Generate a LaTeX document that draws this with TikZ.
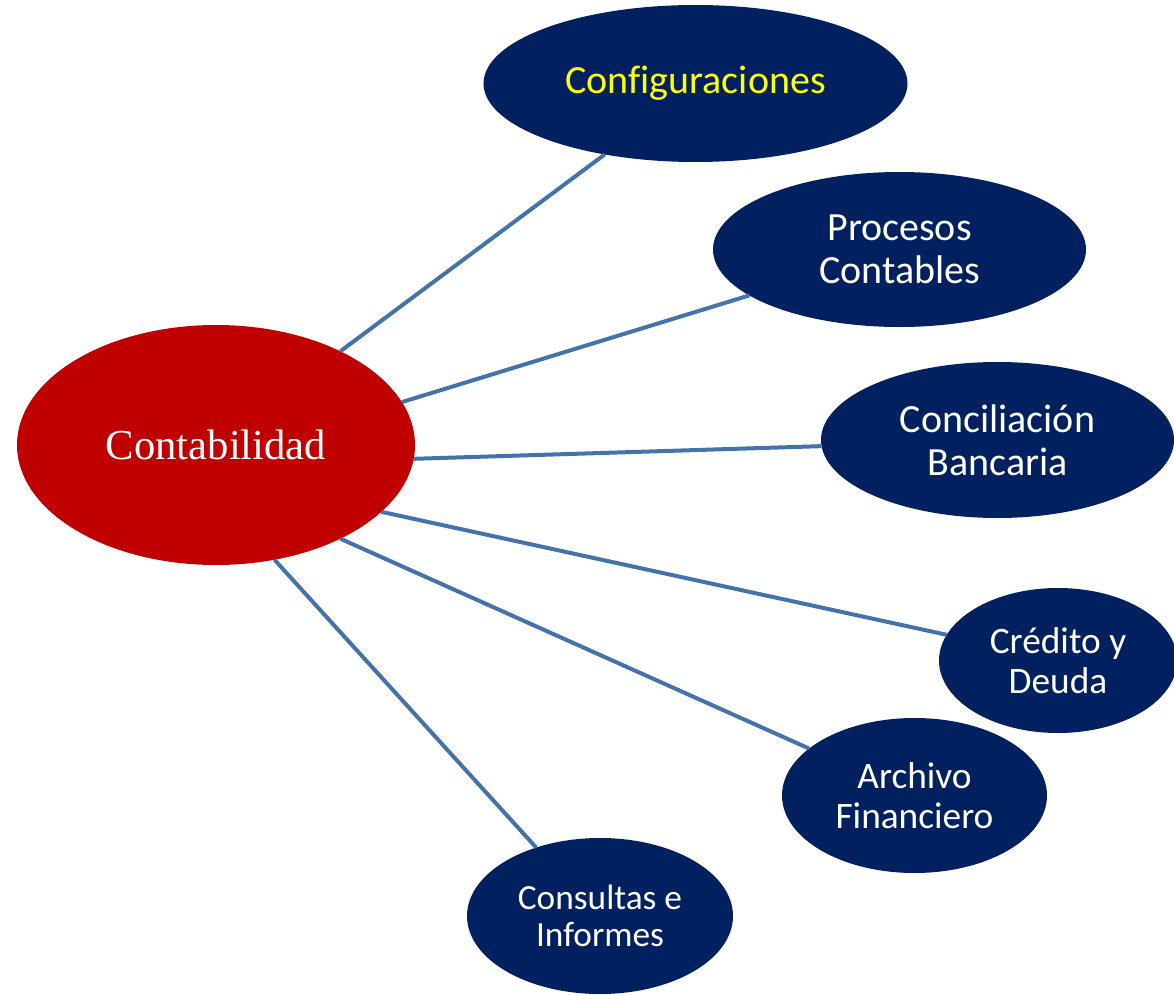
\documentclass[tikz,border=0pt]{standalone}
\usepackage{fontspec}
\setmainfont{Carlito}[Ligatures=NoCommon]
\newfontfamily\titlefont{Liberation Serif}
\usepackage{tikz}
\usetikzlibrary{shapes.geometric}

\definecolor{navyfill}{RGB}{0,32,96}
\definecolor{redfill}{RGB}{192,0,0}
\definecolor{linkblue}{RGB}{68,114,170}
\definecolor{yellowtext}{RGB}{255,255,0}

\begin{document}
\begin{tikzpicture}[x=0.75pt,y=0.75pt,yscale=-1,xscale=1,
  bubble/.style={ellipse, fill=navyfill, draw=none, inner sep=0pt, outer sep=0pt, text=white, align=center},
  big text/.style={font=\fontsize{30}{32}\selectfont},
  mid text/.style={font=\fontsize{28}{30}\selectfont},
  small text/.style={font=\fontsize{26.5}{28}\selectfont},
  link/.style={draw=linkblue, line width=3pt}]
%set diagram left start at 0, and has height of 995
\useasboundingbox (0,0) rectangle (1174,995);

%Shape: Ellipse
\draw (216,445) node [ellipse, fill=redfill, inner sep=0pt, outer sep=0pt, minimum width=298.5pt, minimum height=180pt, text=white, font=\titlefont\fontsize{32}{34}\selectfont] (ctr) {Contabilidad};
%Shape: Ellipse
\draw (695.5,83.5) node [bubble, big text, minimum width=318pt, minimum height=117.75pt, text=yellowtext] (conf) {Configuraciones};
%Shape: Ellipse
\draw (899.5,249.5) node [bubble, big text, minimum width=279.75pt, minimum height=116.25pt] (proc) {Procesos\\Contables};
%Shape: Ellipse
\draw (997.5,440) node [bubble, big text, minimum width=264.75pt, minimum height=117pt] (conc) {Conciliación\\Bancaria};
%Shape: Ellipse
\draw (1058,660.5) node [bubble, mid text, minimum width=178.5pt, minimum height=108.75pt] (cred) {Crédito y\\Deuda};
%Shape: Ellipse
\draw (914.5,795.5) node [bubble, mid text, minimum width=198.75pt, minimum height=116.25pt] (arch) {Archivo\\Financiero};
%Shape: Ellipse
\draw (600,916) node [bubble, small text, minimum width=199.5pt, minimum height=117pt] (cons) {Consultas e\\Informes};

%Straight Lines
\draw [link] (ctr.37) -- (conf.-142);
%Straight Lines
\draw [link] (ctr.13) -- (proc.-163);
%Straight Lines
\draw [link] (ctr.-4) -- (conc.-178);
%Straight Lines
\draw [link] (ctr.-22) -- (cred.167);
%Straight Lines
\draw [link] (ctr.-37) -- (arch.156);
%Straight Lines
\draw [link] (ctr.-63) -- (cons.133);

\end{tikzpicture}
\end{document}
